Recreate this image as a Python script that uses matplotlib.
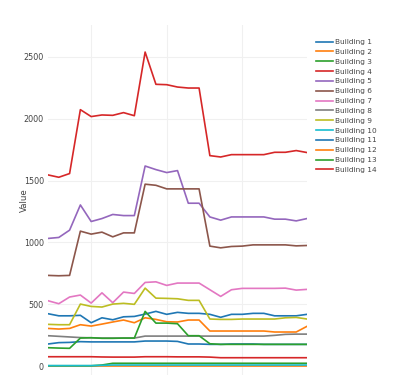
import matplotlib
matplotlib.use("Agg")
import matplotlib.pyplot as plt
import numpy as np

x = list(range(25))

b1 = [423, 406, 406, 410, 350, 390, 374, 398, 401, 420, 442, 418, 434, 426, 426, 418, 394, 418, 418, 426, 426, 406, 406, 406, 418]
b2 = [0] * 25
b3 = [2, 2, 2, 2, 2, 8, 22, 22, 22, 22, 22, 22, 22, 22, 22, 22, 22, 22, 22, 22, 22, 22, 22, 22, 22]
b4 = [75, 75, 75, 75, 75, 73, 72, 72, 72, 75, 75, 75, 74, 74, 74, 72, 67, 67, 67, 67, 67, 67, 67, 67, 67]
b5 = [1032, 1040, 1099, 1303, 1169, 1193, 1226, 1217, 1217, 1618, 1589, 1565, 1581, 1317, 1317, 1206, 1180, 1206, 1206, 1206, 1206, 1188, 1188, 1174, 1193]
b6 = [733, 730, 733, 1091, 1067, 1083, 1045, 1077, 1077, 1471, 1462, 1433, 1433, 1433, 1433, 970, 956, 967, 970, 980, 980, 980, 980, 972, 975]
b7 = [528, 504, 558, 574, 509, 592, 512, 598, 587, 676, 681, 652, 671, 671, 671, 617, 563, 617, 628, 628, 628, 628, 630, 614, 620]
b8 = [245, 240, 235, 230, 228, 226, 226, 226, 226, 242, 242, 242, 242, 242, 242, 242, 242, 242, 242, 242, 242, 248, 256, 258, 258]
b9 = [337, 334, 334, 501, 482, 477, 501, 507, 499, 630, 549, 547, 544, 531, 531, 380, 377, 377, 380, 380, 380, 380, 390, 393, 380]
b10 = [3, 3, 3, 3, 3, 5, 8, 8, 8, 8, 8, 8, 8, 8, 8, 8, 8, 8, 8, 8, 8, 8, 8, 8, 8]
b11 = [178, 189, 191, 197, 195, 195, 195, 195, 195, 202, 202, 202, 199, 178, 178, 175, 175, 178, 178, 178, 175, 175, 175, 175, 175]
b12 = [304, 299, 304, 334, 323, 339, 356, 372, 350, 390, 377, 358, 356, 372, 372, 283, 283, 283, 283, 283, 283, 275, 275, 275, 321]
b13 = [148, 145, 143, 226, 229, 224, 224, 226, 226, 442, 347, 347, 342, 245, 245, 180, 175, 175, 175, 175, 175, 175, 175, 175, 175]
b14 = [1546, 1527, 1557, 2074, 2018, 2031, 2028, 2050, 2025, 2540, 2279, 2276, 2257, 2249, 2249, 1702, 1691, 1710, 1710, 1710, 1710, 1729, 1729, 1743, 1727]

names = [f"Building {i}" for i in range(1, 15)]
series = [b1, b2, b3, b4, b5, b6, b7, b8, b9, b10, b11, b12, b13, b14]
colors = ["#1f77b4", "#ff7f0e", "#2ca02c", "#d62728", "#9467bd", "#8c564b",
          "#e377c2", "#7f7f7f", "#bcbd22", "#17becf"]
colors = colors + colors[:4]

fig = plt.figure(figsize=(4, 3.75), dpi=100)
W, H = 400, 375
left, right = 48, 307
top, bottom = 25, 375
ax = fig.add_axes([left / W, 1 - bottom / H, (right - left) / W, (bottom - top) / H])

for name, s, c in zip(names, series, colors):
    ax.plot(x, s, color=c, lw=1.2, label=name)

px_per_unit = (366 - 57) / 2500
ax.set_xlim(0, 24)
ax.set_ylim(-(bottom - 366) / px_per_unit, (366 - top) / px_per_unit)
ax.set_yticks([0, 500, 1000, 1500, 2000, 2500])
ax.set_xticks([4, 11, 18])
ax.set_xticklabels([])
ax.tick_params(length=0, labelsize=5.8, labelcolor="#444444", pad=3)
ax.grid(True, color="#f0f0f0", lw=0.8)
ax.set_axisbelow(True)
for sp in ax.spines.values():
    sp.set_visible(False)
ax.set_ylabel("Value", fontsize=6.2, color="#444444", labelpad=-4)

leg = fig.legend(loc="upper left", bbox_to_anchor=(313 / W, 1 - 36 / H), frameon=False,
                 fontsize=5.3, handlelength=2.3, handletextpad=0.35, labelspacing=0.5,
                 borderaxespad=0)
for t in leg.get_texts():
    t.set_color("#444444")

fig.savefig("out.png", dpi=100)
